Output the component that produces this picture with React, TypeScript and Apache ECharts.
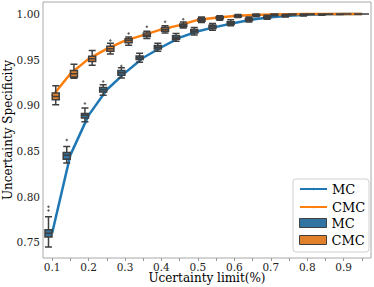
import React, { useEffect, useRef } from "react";
import * as echarts from "echarts";

const categories = ["0.1","0.15","0.2","0.25","0.3","0.35","0.4","0.45","0.5","0.55","0.6","0.65","0.7","0.75","0.8","0.85","0.9","0.95"];

// line values (mean curves)
const mcLine = [0.760, 0.8455, 0.889, 0.917, 0.9355, 0.952, 0.9635, 0.974, 0.981, 0.9858, 0.990, 0.9938, 0.9964, 0.998, 0.999, 0.9995, 0.9998, 1.0];
const cmcLine = [0.9097, 0.9346, 0.9508, 0.9618, 0.9708, 0.9768, 0.983, 0.9877, 0.9935, 0.9958, 0.9976, 0.9987, 0.9993, 0.9996, 0.9998, 0.9999, 1.0, 1.0];

// boxplots: [min, Q1, median, Q3, max]
const mcBoxes = [
  [0.745, 0.756, 0.760, 0.764, 0.778],
  [0.837, 0.841, 0.8455, 0.8485, 0.855],
  [0.882, 0.886, 0.889, 0.891, 0.897],
  [0.911, 0.9145, 0.917, 0.9195, 0.9225],
  [0.930, 0.933, 0.9355, 0.938, 0.941],
  [0.947, 0.950, 0.952, 0.954, 0.957],
  [0.959, 0.9615, 0.9635, 0.9655, 0.968],
  [0.970, 0.9722, 0.974, 0.976, 0.9785],
  [0.977, 0.979, 0.981, 0.983, 0.985],
  [0.982, 0.984, 0.9858, 0.9875, 0.9895],
  [0.987, 0.9888, 0.990, 0.9915, 0.9935],
  [0.991, 0.9928, 0.9938, 0.995, 0.9965],
  [0.994, 0.9955, 0.9964, 0.9973, 0.9985],
  [0.9965, 0.9974, 0.998, 0.9986, 0.9995],
  [0.9978, 0.9986, 0.999, 0.9994, 1.0],
  [0.9986, 0.9992, 0.9995, 0.9998, 1.0],
  [0.9992, 0.9996, 0.9998, 1.0, 1.0],
  [0.9996, 0.9999, 1.0, 1.0, 1.0],
];
const cmcBoxes = [
  [0.9005, 0.906, 0.9097, 0.9134, 0.9214],
  [0.9295, 0.931, 0.9346, 0.938, 0.945],
  [0.9437, 0.948, 0.9508, 0.9536, 0.960],
  [0.956, 0.959, 0.9618, 0.9646, 0.968],
  [0.9657, 0.9683, 0.9708, 0.9727, 0.9748],
  [0.973, 0.9752, 0.9768, 0.979, 0.981],
  [0.979, 0.981, 0.983, 0.985, 0.987],
  [0.9845, 0.9862, 0.9877, 0.989, 0.991],
  [0.9905, 0.992, 0.9935, 0.995, 0.9965],
  [0.993, 0.9948, 0.9958, 0.9968, 0.998],
  [0.996, 0.997, 0.9976, 0.9983, 0.9992],
  [0.997, 0.998, 0.9987, 0.9993, 1.0],
  [0.998, 0.9988, 0.9993, 0.9997, 1.0],
  [0.9988, 0.9993, 0.9996, 0.9999, 1.0],
  [0.9993, 0.9996, 0.9998, 1.0, 1.0],
  [0.9996, 0.9998, 0.9999, 1.0, 1.0],
  [0.9998, 0.9999, 1.0, 1.0, 1.0],
  [0.9999, 1.0, 1.0, 1.0, 1.0],
];

// outliers: [category, value]
const mcOutliers = [["0.1", 0.785], ["0.1", 0.789], ["0.15", 0.862], ["0.2", 0.902], ["0.25", 0.926], ["0.3", 0.943]];
const cmcOutliers = [["0.25", 0.971], ["0.3", 0.9786], ["0.35", 0.986], ["0.4", 0.9914], ["0.45", 0.994]];

const yTicksFmt = (v: number) => v.toFixed(2);

const FONT = "DejaVu Serif";
const EDGE = "#3f3f3f";
const BLUE_LINE = "#1f77b4";
const ORANGE_LINE = "#ff7f0e";
const BLUE_BOX = "#3274a1";
const ORANGE_BOX = "#e1812c";

export default function App() {
  const ref = useRef<HTMLDivElement>(null);
  useEffect(() => {
    if (!ref.current) return;
    const chart = echarts.init(ref.current, null, { renderer: "svg" });
    const legendText = { fontFamily: FONT, fontSize: 13, color: "#000" };
    chart.setOption({
      animation: false,
      grid: {
        left: 43, right: 3, top: 2, bottom: 29,
        containLabel: false,
        outerBoundsMode: "none",
        show: true, borderColor: "#a8a8a8", borderWidth: 1,
      },
      xAxis: {
        type: "category",
        data: categories,
        boundaryGap: true,
        name: "Ucertainty limit(%)",
        nameLocation: "middle",
        nameGap: 14,
        nameMoveOverlap: false,
        nameTextStyle: { fontFamily: FONT, fontSize: 12, color: "#000" },
        axisLine: { show: false },
        axisTick: { show: true, alignWithLabel: true, interval: 0, length: 3, lineStyle: { color: "#999" } },
        axisLabel: { interval: 1, margin: 3, fontFamily: FONT, fontSize: 10.5, color: "#222" },
        splitLine: { show: false },
      },
      yAxis: {
        type: "value",
        min: 0.733,
        max: 1.013,
        splitNumber: 5,
        name: "Uncertainty Specificity",
        nameLocation: "middle",
        nameGap: 29,
        nameMoveOverlap: false,
        nameTextStyle: { fontFamily: FONT, fontSize: 12, color: "#000" },
        axisLine: { show: false },
        axisTick: { show: false },
        axisLabel: { margin: 3, fontFamily: FONT, fontSize: 10.5, color: "#222", showMinLabel: false, showMaxLabel: false, formatter: yTicksFmt },
        splitLine: { show: false },
      },
      legend: [
        {
          data: ["MC_line", "CMC_line"],
          orient: "vertical",
          left: 299,
          top: 182.5,
          itemWidth: 27,
          itemHeight: 3,
          itemGap: 5,
          padding: 0,
          formatter: (n: string) => n.replace("_line", ""),
          textStyle: legendText,
        },
        {
          data: [
            { name: "MC_box", icon: "rect", itemStyle: { color: BLUE_BOX, borderColor: EDGE, borderWidth: 1 } },
            { name: "CMC_box", icon: "rect", itemStyle: { color: ORANGE_BOX, borderColor: EDGE, borderWidth: 1 } },
          ],
          orient: "vertical",
          left: 299,
          top: 216.5,
          itemWidth: 27,
          itemHeight: 9,
          itemGap: 4,
          padding: 0,
          formatter: (n: string) => n.replace("_box", ""),
          textStyle: legendText,
        },
      ],
      graphic: [
        {
          type: "rect",
          shape: { x: 293, y: 179, width: 76, height: 73, r: 3 },
          style: { fill: "#fff", stroke: "#d0d0d0", lineWidth: 1 },
          z: 1,
        },
      ],
      series: [
        {
          name: "MC_line",
          type: "line",
          data: mcLine,
          symbol: "none",
          lineStyle: { color: BLUE_LINE, width: 2.5 },
          itemStyle: { color: BLUE_LINE },
          z: 2,
        },
        {
          name: "CMC_line",
          type: "line",
          data: cmcLine,
          symbol: "none",
          lineStyle: { color: ORANGE_LINE, width: 2.5 },
          itemStyle: { color: ORANGE_LINE },
          z: 2,
        },
        {
          name: "MC_box",
          type: "boxplot",
          data: mcBoxes,
          boxWidth: [7, 7],
          itemStyle: { color: BLUE_BOX, borderColor: EDGE, borderWidth: 1.5 },
          z: 3,
        },
        {
          name: "CMC_box",
          type: "boxplot",
          data: cmcBoxes,
          boxWidth: [7, 7],
          itemStyle: { color: ORANGE_BOX, borderColor: EDGE, borderWidth: 1.5 },
          z: 3,
        },
        {
          name: "MC_out",
          type: "scatter",
          data: mcOutliers,
          symbol: "diamond",
          symbolSize: 3,
          symbolOffset: [-3.6, 0],
          itemStyle: { color: EDGE },
          z: 4,
        },
        {
          name: "CMC_out",
          type: "scatter",
          data: cmcOutliers,
          symbol: "diamond",
          symbolSize: 3,
          symbolOffset: [3.6, 0],
          itemStyle: { color: EDGE },
          z: 4,
        },
      ],
    });
    return () => chart.dispose();
  }, []);
  return <div ref={ref} style={{ position: "absolute", left: 0, top: 0, width: 374, height: 287 }} />;
}
